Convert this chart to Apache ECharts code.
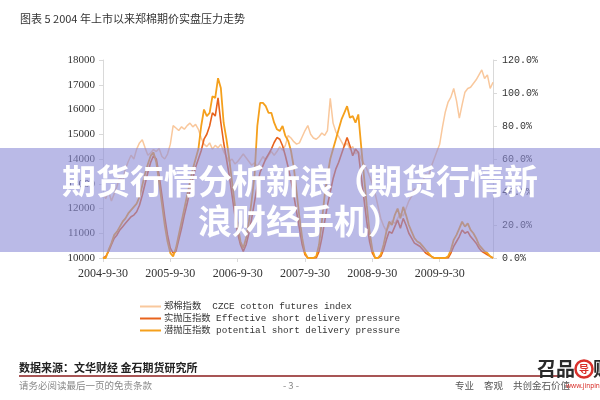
<!DOCTYPE html>
<html><head><meta charset="utf-8">
<script src="https://cdn.jsdelivr.net/npm/echarts@6/dist/echarts.min.js"></script>
<style>html,body{margin:0;padding:0;background:#fff}#c{width:600px;height:400px}</style>
</head><body><div id="c"></div>
<script>
// ---- data ----
const titleText = '图表 5 2004 年上市以来郑棉期价实盘压力走势';
const seriesNames = ['郑棉指数  CZCE cotton futures index', '实抛压指数 Effective short delivery pressure', '潜抛压指数 potential short delivery pressure'];
const leftTicks = {min: 10000, max: 18000, interval: 1000};
const rightTicks = {min: 0, max: 120, interval: 20};

// semi-monthly dates: 2004-9-30 ... 2010-7-15
const dates = (function () {
  const d = ['2004-9-30'];
  for (let k = 0; k < 70; k++) {
    const m0 = 9 + k;
    const y = 2004 + Math.floor(m0 / 12);
    const m = m0 % 12 + 1;
    d.push(y + '-' + m + '-15');
    if (k < 69) d.push(y + '-' + m + '-' + new Date(y, m, 0).getDate());
  }
  return d;
})();

const cottonIndex = [
  12600,12400,12700,12300,12600,12900,13300,13100,13600,13900,
  14150,14000,14400,14650,14780,14450,14150,14250,14380,14300,
  14420,14100,14000,14200,14600,15350,15250,15150,15300,15200,
  15350,15450,15300,15400,15200,14850,14600,14500,14650,14400,
  14550,14450,14600,14300,14100,13900,14000,13800,13900,14050,
  14200,14050,13900,13750,13850,13700,13900,14100,13950,14150,
  14300,14150,14300,14500,14350,14550,14950,14850,14700,14600,
  14650,14900,15150,15350,15000,14850,14800,14900,15050,14950,
  15150,16450,15450,15100,14900,14700,14500,14650,14400,14500,
  14200,14300,14000,13800,13600,13300,13000,12600,12100,11600,
  11300,11100,11300,11500,11400,11600,11800,11700,12000,12300,
  12500,12800,12700,12900,13100,13400,13300,13700,14000,14300,
  14600,15300,15900,16300,16500,16850,16350,15650,16200,16700,
  16850,16900,17050,17200,17400,17600,17250,17400,16850,17100
];
const effectivePressure = [
  0,1,4,8,12,14,17,19,21,23,
  25,26,28,32,38,45,52,58,62,60,
  50,38,25,14,6,3,4,11,18,26,
  33,41,48,55,60,65,72,75,80,88,
  86,97,82,70,60,50,38,26,15,8,
  4,8,15,24,34,44,52,56,60,63,
  66,70,73,72,68,62,55,47,38,28,
  18,8,2,0,0,0,0,4,12,22,
  32,40,48,54,58,63,68,73,68,62,
  66,64,50,36,22,10,3,0,0,1,
  5,11,16,15,19,23,18,24,20,15,
  12,9,8,7,5,3,2,1,0,0,
  0,0,0,0,3,7,10,13,17,15,
  16,13,11,9,6,4,3,2,1,0
];
const potentialPressure = [
  0,0,5,9,14,16,19,22,24,27,
  29,31,33,37,44,51,57,62,64,58,
  46,33,20,10,3,1,6,14,22,30,
  38,46,54,60,66,80,90,86,88,98,
  97,109,103,82,72,60,46,32,20,10,
  6,12,22,35,50,80,94,94,92,88,
  88,82,78,77,80,74,71,65,55,40,
  25,12,3,0,0,0,1,8,22,38,
  50,60,66,72,78,84,88,92,85,86,
  82,87,68,50,32,16,5,0,0,2,
  8,16,22,20,26,30,24,31,26,20,
  16,12,10,9,7,5,3,1,0,0,
  0,0,0,1,5,11,14,18,22,19,
  21,17,15,12,8,6,4,3,1,0
];
const bannerLines = ['期货行情分析新浪（期货行情新', '浪财经手机）'];
const footerSource = '数据来源：文华财经 金石期货研究所';
const footerNote = '请务必阅读最后一页的免责条款';
const pageNo = '- 3 -';
const sloganParts = ['专业', '客观', '共创金石价值'];

// ---- chart ----
const isLabel = (i, v) => /-9-30$/.test(v);
const axisGray = '#d9d9d9';
const serif = "'Liberation Serif', 'Times New Roman', serif";
const mono = "'Liberation Mono', 'Noto Sans CJK SC', monospace";
const cjk = "'Noto Sans CJK SC', sans-serif";
const colors = ['#f9c89d', '#e8631c', '#f5a01c'];

const chart = echarts.init(document.getElementById('c'), null, {renderer: 'canvas'});
chart.setOption({
  animation: false,
  backgroundColor: '#fff',
  grid: {left: 103, right: 107, top: 60, bottom: 142, containLabel: false},
  legend: {
    orient: 'vertical', left: 140, top: 301, padding: 0, itemWidth: 21, itemHeight: 2, itemGap: 1,
    icon: 'rect',
    textStyle: {fontFamily: mono, fontSize: 9.3, lineHeight: 11, color: '#333', padding: [0, 0, 0, -2]},
    data: seriesNames
  },
  xAxis: {
    type: 'category', data: dates, boundaryGap: false,
    axisLine: {lineStyle: {color: axisGray}},
    axisTick: {interval: isLabel, length: 4, lineStyle: {color: axisGray}},
    axisLabel: {interval: isLabel, fontFamily: serif, fontSize: 12, color: '#333', margin: 10}
  },
  yAxis: [{
    type: 'value', min: leftTicks.min, max: leftTicks.max, interval: leftTicks.interval,
    axisLine: {show: true, lineStyle: {color: axisGray}},
    axisTick: {show: true, length: 4, lineStyle: {color: axisGray}},
    splitLine: {show: false},
    axisLabel: {fontFamily: serif, fontSize: 11, color: '#333', margin: 8, formatter: v => String(v)}
  }, {
    type: 'value', min: rightTicks.min, max: rightTicks.max, interval: rightTicks.interval,
    position: 'right',
    axisLine: {show: true, lineStyle: {color: axisGray}},
    axisTick: {show: true, length: 4, lineStyle: {color: axisGray}},
    splitLine: {show: false},
    axisLabel: {fontFamily: mono, fontSize: 10, color: '#333', margin: 9,
      formatter: v => v.toFixed(1) + '%'}
  }],
  series: [
    {name: seriesNames[0], type: 'line', data: cottonIndex, yAxisIndex: 0, symbol: 'none',
     lineStyle: {color: colors[0], width: 1.5}, itemStyle: {color: colors[0]}, z: 2},
    {name: seriesNames[1], type: 'line', data: effectivePressure, yAxisIndex: 1, symbol: 'none',
     lineStyle: {color: colors[1], width: 1.6}, itemStyle: {color: colors[1]}, z: 3},
    {name: seriesNames[2], type: 'line', data: potentialPressure, yAxisIndex: 1, symbol: 'none',
     lineStyle: {color: colors[2], width: 1.8}, itemStyle: {color: colors[2]}, z: 4}
  ],
  graphic: [
    {type: 'text', left: 20, top: 13, z: 50,
     style: {text: titleText, fontSize: 11, fill: '#333', fontFamily: cjk}},
    {type: 'rect', shape: {x: 0, y: 148, width: 600, height: 104}, z: 100,
     style: {fill: 'rgba(140,140,215,0.6)'}},
    {type: 'text', x: 300, y: 181, z: 101,
     style: {text: bannerLines[0], fontSize: 34, fontWeight: 'bold', fill: '#fff',
       align: 'center', verticalAlign: 'middle', fontFamily: cjk,
       shadowColor: 'rgba(80,80,120,0.35)', shadowBlur: 2}},
    {type: 'text', x: 300, y: 221, z: 101,
     style: {text: bannerLines[1], fontSize: 34, fontWeight: 'bold', fill: '#fff',
       align: 'center', verticalAlign: 'middle', fontFamily: cjk,
       shadowColor: 'rgba(80,80,120,0.35)', shadowBlur: 2}},
    {type: 'text', x: 19, y: 368, z: 50,
     style: {text: footerSource, fontSize: 11, fill: '#222', fontWeight: 'bold',
       verticalAlign: 'middle', fontFamily: cjk}},
    {type: 'line', shape: {x1: 19, y1: 376, x2: 560, y2: 376}, z: 50,
     style: {stroke: '#8b1c1c', lineWidth: 1.5}},
    {type: 'text', x: 19, y: 385, z: 50,
     style: {text: footerNote, fontSize: 9.5, fill: '#888', verticalAlign: 'middle', fontFamily: cjk}},
    {type: 'text', x: 291, y: 385, z: 50,
     style: {text: pageNo, fontSize: 9.5, fill: '#888', align: 'center', verticalAlign: 'middle', fontFamily: cjk}},
    {type: 'text', x: 455, y: 385, z: 50,
     style: {text: sloganParts[0], fontSize: 9.5, fill: '#555', verticalAlign: 'middle', fontFamily: cjk}},
    {type: 'text', x: 484, y: 385, z: 50,
     style: {text: sloganParts[1], fontSize: 9.5, fill: '#555', verticalAlign: 'middle', fontFamily: cjk}},
    {type: 'text', x: 513, y: 385, z: 50,
     style: {text: sloganParts[2], fontSize: 9.5, fill: '#555', verticalAlign: 'middle', fontFamily: cjk}},
    {type: 'text', x: 537, y: 369, z: 51,
     style: {text: '召品', fontSize: 19, fontWeight: 'bold', fill: '#2a2a2a', verticalAlign: 'middle', fontFamily: cjk}},
    {type: 'circle', shape: {cx: 584, cy: 369, r: 8.5}, z: 51,
     style: {fill: '#fff', stroke: '#d9302b', lineWidth: 2.5}},
    {type: 'text', x: 584, y: 369, z: 52,
     style: {text: '导', fontSize: 10, fontWeight: 'bold', fill: '#d9302b', align: 'center', verticalAlign: 'middle', fontFamily: cjk}},
    {type: 'text', x: 593, y: 369, z: 51,
     style: {text: '财', fontSize: 19, fontWeight: 'bold', fill: '#2a2a2a', verticalAlign: 'middle', fontFamily: cjk}},
    {type: 'text', x: 566, y: 386, z: 52,
     style: {text: 'www.jinpindaogou.com', fontSize: 6.5, fill: '#d9302b', verticalAlign: 'middle', fontFamily: "'Noto Sans', sans-serif"}}
  ]
});
</script></body></html>
